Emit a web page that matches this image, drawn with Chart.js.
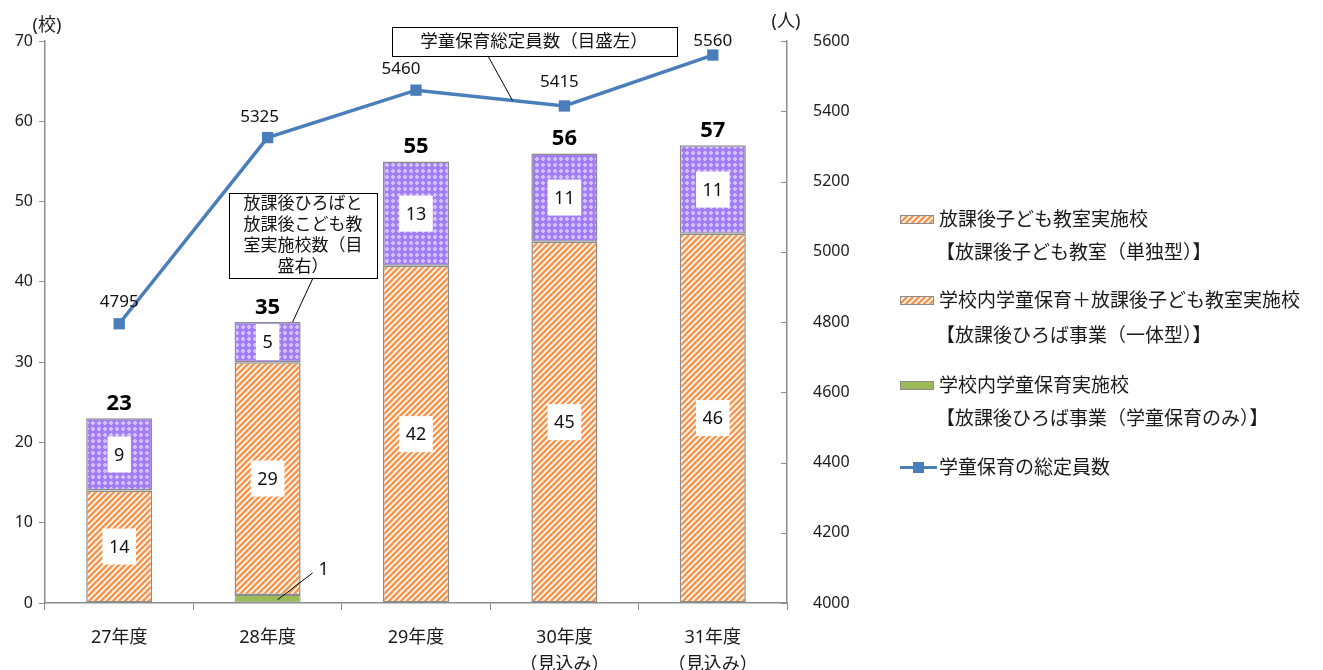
<!DOCTYPE html>
<html><head><meta charset="utf-8">
<script src="https://cdn.jsdelivr.net/npm/chart.js@4.4.1/dist/chart.umd.min.js"></script>
<style>
html,body{margin:0;padding:0;background:#fff;}
#wrap{position:relative;width:1323px;height:670px;overflow:hidden;}
#c{position:absolute;left:0;top:0;}
#legend{position:absolute;left:0;top:0;font-family:"Noto Sans","Noto Sans CJK JP",sans-serif;font-size:19px;color:#1a1a1a;}
.row{position:absolute;white-space:nowrap;line-height:22px;}
.sw{position:absolute;width:34px;height:9px;box-sizing:border-box;border:1px solid #8c8c8c;}
.ln{position:absolute;width:37px;height:3px;background:#4A7EBB;}
.mk{position:absolute;width:11px;height:11px;background:#4A7EBB;}
</style></head>
<body><div id="wrap"><canvas id="c" width="1323" height="670"></canvas><div id="legend"></div></div>
<script>
// ---- data ----
const categories = [['27年度'], ['28年度'], ['29年度'], ['30年度', '（見込み）'], ['31年度', '（見込み）']];
const seriesNames = ['学校内学童保育実施校', '学校内学童保育＋放課後子ども教室実施校', '放課後子ども教室実施校', '学童保育の総定員数'];
const gakudouOnly = [0, 1, 0, 0, 0];          // green
const ittaigata   = [14, 29, 42, 45, 46];     // orange hatch
const tandoku     = [9, 5, 13, 11, 11];       // purple
const totals      = [23, 35, 55, 56, 57];
const capacity    = [4795, 5325, 5460, 5415, 5560];
const leftTicks   = [0, 10, 20, 30, 40, 50, 60, 70];
const rightTicks  = [4000, 4200, 4400, 4600, 4800, 5000, 5200, 5400, 5600];
const legendItems = [
  ['放課後子ども教室実施校', '【放課後子ども教室（単独型）】'],
  ['学校内学童保育＋放課後子ども教室実施校', '【放課後ひろば事業（一体型）】'],
  ['学校内学童保育実施校', '【放課後ひろば事業（学童保育のみ）】'],
  ['学童保育の総定員数']
];
const callout1 = '学童保育総定員数（目盛左）';
const callout2 = ['放課後ひろばと', '放課後こども教', '室実施校数（目', '盛右）'];

// ---- styles ----
const FF = '"Noto Sans", "Noto Sans CJK JP", sans-serif';
const ORANGE = '#F9944A', PURPLE = '#A27DF5', GREEN = '#9BBB59', BLUE = '#4A7EBB', EDGE = '#8c8c8c';
const lineLabelDx = [0, -8, -15, -5, 0];
const lineLabelDy = [-22, -20, -21, -24, -14];

function hatchTile() {
  const s = 6, c = document.createElement('canvas'); c.width = c.height = s;
  const g = c.getContext('2d');
  g.fillStyle = '#fff'; g.fillRect(0, 0, s, s);
  g.strokeStyle = ORANGE; g.lineWidth = 2.6;
  g.beginPath();
  g.moveTo(-1, 1); g.lineTo(1, -1);
  g.moveTo(0, s); g.lineTo(s, 0);
  g.moveTo(s - 1, s + 1); g.lineTo(s + 1, s - 1);
  g.stroke();
  return c;
}
function dotTile() {
  const s = 6, c = document.createElement('canvas'); c.width = c.height = s;
  const g = c.getContext('2d');
  g.fillStyle = PURPLE; g.fillRect(0, 0, s, s);
  g.fillStyle = '#D2C0FF';
  g.fillRect(2, 1, 2, 4); g.fillRect(1, 2, 4, 2);
  return c;
}
const hTile = hatchTile(), dTile = dotTile();
const cctx = document.getElementById('c').getContext('2d');
const hatchPat = cctx.createPattern(hTile, 'repeat');
const dotPat = cctx.createPattern(dTile, 'repeat');

const overlay = {
  id: 'overlay',
  afterDatasetsDraw(chart) {
    const ctx = chart.ctx;
    const y1 = chart.scales.y1;
    ctx.save();
    // inside tick marks of right axis
    ctx.strokeStyle = EDGE; ctx.lineWidth = 1;
    y1.ticks.forEach((t, i) => {
      const py = Math.round(y1.getPixelForTick(i)) + 0.5;
      ctx.beginPath(); ctx.moveTo(y1.left - 6, py); ctx.lineTo(y1.left, py); ctx.stroke();
    });
    // unit labels
    ctx.fillStyle = '#1a1a1a'; ctx.font = '18px ' + FF; ctx.textBaseline = 'middle'; ctx.textAlign = 'center';
    ctx.fillText('(校)', 47, 26);
    ctx.fillText('(人)', 786, 22);

    // bar segment labels
    ctx.font = '18px ' + FF;
    [1, 2].forEach(di => {
      const meta = chart.getDatasetMeta(di);
      meta.data.forEach((el, j) => {
        const v = chart.data.datasets[di].data[j];
        if (!v) return;
        const cy = (el.y + el.base) / 2;
        const txt = String(v);
        const w = ctx.measureText(txt).width + 13;
        ctx.fillStyle = '#fff';
        ctx.fillRect(el.x - w / 2, cy - 18, w, 36);
        ctx.fillStyle = '#111';
        ctx.fillText(txt, el.x, cy + 1);
      });
    });
    // green label with leader
    const gm = chart.getDatasetMeta(0);
    gm.data.forEach((el, j) => {
      const v = gakudouOnly[j];
      if (!v) return;
      const cy = (el.y + el.base) / 2;
      ctx.strokeStyle = '#000'; ctx.lineWidth = 1;
      ctx.beginPath(); ctx.moveTo(el.x + 10, cy + 1); ctx.lineTo(el.x + 45, el.y - 22); ctx.stroke();
      ctx.fillStyle = '#111'; ctx.textAlign = 'center';
      ctx.fillText(String(v), el.x + 56, el.y - 25);
    });
    // totals
    const tm = chart.getDatasetMeta(2);
    ctx.font = 'bold 22px ' + FF; ctx.textBaseline = 'alphabetic'; ctx.fillStyle = '#000';
    tm.data.forEach((el, j) => { ctx.fillText(String(totals[j]), el.x, el.y - 8); });

    // line labels
    const lm = chart.getDatasetMeta(3);
    ctx.font = '17px ' + FF; ctx.textBaseline = 'middle'; ctx.fillStyle = '#111';
    lm.data.forEach((el, j) => { ctx.fillText(String(capacity[j]), el.x + lineLabelDx[j], el.y + lineLabelDy[j]); });

    // callout 1
    const p2 = lm.data[2], p3 = lm.data[3];
    const t = 0.65;
    const ax = p2.x + (p3.x - p2.x) * t, ay = p2.y + (p3.y - p2.y) * t;
    ctx.strokeStyle = '#000'; ctx.lineWidth = 1;
    ctx.beginPath(); ctx.moveTo(488, 56); ctx.lineTo(ax, ay); ctx.stroke();
    ctx.fillStyle = '#fff'; ctx.fillRect(392, 27, 285, 29);
    ctx.strokeRect(392.5, 27.5, 285, 29);
    ctx.fillStyle = '#111'; ctx.font = '17.5px ' + FF;
    ctx.fillText(callout1, 534, 42);

    // callout 2
    const b28 = tm.data[1];
    ctx.beginPath(); ctx.moveTo(313, 278); ctx.lineTo(b28.x + 25, b28.y); ctx.stroke();
    ctx.fillStyle = '#fff'; ctx.fillRect(229, 193, 148, 85);
    ctx.strokeRect(229.5, 193.5, 148, 85);
    ctx.fillStyle = '#111'; ctx.font = '17px ' + FF;
    callout2.forEach((s, k) => ctx.fillText(s, 303, 204 + k * 21));
    ctx.restore();
  }
};

new Chart(document.getElementById('c'), {
  data: {
    labels: categories,
    datasets: [
      { type: 'bar', label: seriesNames[0], data: gakudouOnly, yAxisID: 'y', stack: 's', order: 1,
        backgroundColor: GREEN, borderColor: EDGE, borderWidth: c => (c.raw ? 1 : 0), borderSkipped: false },
      { type: 'bar', label: seriesNames[1], data: ittaigata, yAxisID: 'y', stack: 's', order: 1,
        backgroundColor: hatchPat, borderColor: EDGE, borderWidth: 1.5, borderSkipped: false },
      { type: 'bar', label: seriesNames[2], data: tandoku, yAxisID: 'y', stack: 's', order: 1,
        backgroundColor: dotPat, borderColor: EDGE, borderWidth: 1.5, borderSkipped: false },
      { type: 'line', label: seriesNames[3], data: capacity, yAxisID: 'y1', order: 0,
        borderColor: BLUE, backgroundColor: BLUE, borderWidth: 3.5, pointStyle: 'rect', pointRadius: 8,
        pointBorderWidth: 0, tension: 0 }
    ]
  },
  options: {
    responsive: false, animation: false,
    layout: { padding: { top: 41, left: 0, right: 0, bottom: 0 } },
    plugins: { legend: { display: false }, tooltip: { enabled: false } },
    datasets: { bar: { barPercentage: 0.445, categoryPercentage: 1 } },
    scales: {
      x: {
        stacked: true, offset: true,
        grid: { display: true, drawOnChartArea: false, offset: true, tickLength: 7, color: EDGE },
        border: { color: EDGE, width: 1.5 },
        ticks: { font: { family: FF, size: 18, lineHeight: 1.5 }, color: '#1a1a1a', padding: 14, maxRotation: 0 },
        afterFit: s => { s.height = 67; }
      },
      y: {
        position: 'left', stacked: true, min: 0, max: 70,
        afterBuildTicks: s => { s.ticks = leftTicks.map(v => ({ value: v })); },
        grid: { display: true, drawOnChartArea: false, tickLength: 6, color: EDGE },
        border: { color: EDGE, width: 1.5 },
        ticks: { font: { family: FF, size: 16 }, color: '#1a1a1a', padding: 6, callback: v => String(v) },
        afterFit: s => { s.width = 45; }
      },
      y1: {
        position: 'right', min: 4000, max: 5600,
        afterBuildTicks: s => { s.ticks = rightTicks.map(v => ({ value: v })); },
        grid: { display: false },
        border: { display: true, color: EDGE, width: 1.5 },
        ticks: { font: { family: FF, size: 16 }, color: '#1a1a1a', padding: 18, callback: v => String(v) },
        afterFit: s => { s.width = 1323 - 787; }
      }
    }
  },
  plugins: [overlay]
});

// ---- HTML legend ----
(function () {
  const lg = document.getElementById('legend');
  const rowsY = [[219, 252], [300, 335], [385, 418], [467]];
  const swatches = [hTile.toDataURL(), hTile.toDataURL(), null, 'line'];
  legendItems.forEach((item, i) => {
    const sw = swatches[i];
    if (sw === 'line') {
      const l = document.createElement('div'); l.className = 'ln';
      l.style.left = '900px'; l.style.top = (rowsY[i][0] - 1) + 'px'; lg.appendChild(l);
      const m = document.createElement('div'); m.className = 'mk';
      m.style.left = '913px'; m.style.top = (rowsY[i][0] - 5) + 'px'; lg.appendChild(m);
    } else {
      const s = document.createElement('div'); s.className = 'sw';
      s.style.left = '900px'; s.style.top = (rowsY[i][0] - 4) + 'px';
      if (sw) s.style.backgroundImage = 'url(' + sw + ')'; else s.style.background = GREEN;
      lg.appendChild(s);
    }
    item.forEach((txt, k) => {
      const r = document.createElement('div'); r.className = 'row';
      r.textContent = txt;
      r.style.left = (k === 0 ? 939 : 936) + 'px';
      r.style.top = (rowsY[i][k] - 11) + 'px';
      lg.appendChild(r);
    });
  });
})();
</script>
</body></html>
